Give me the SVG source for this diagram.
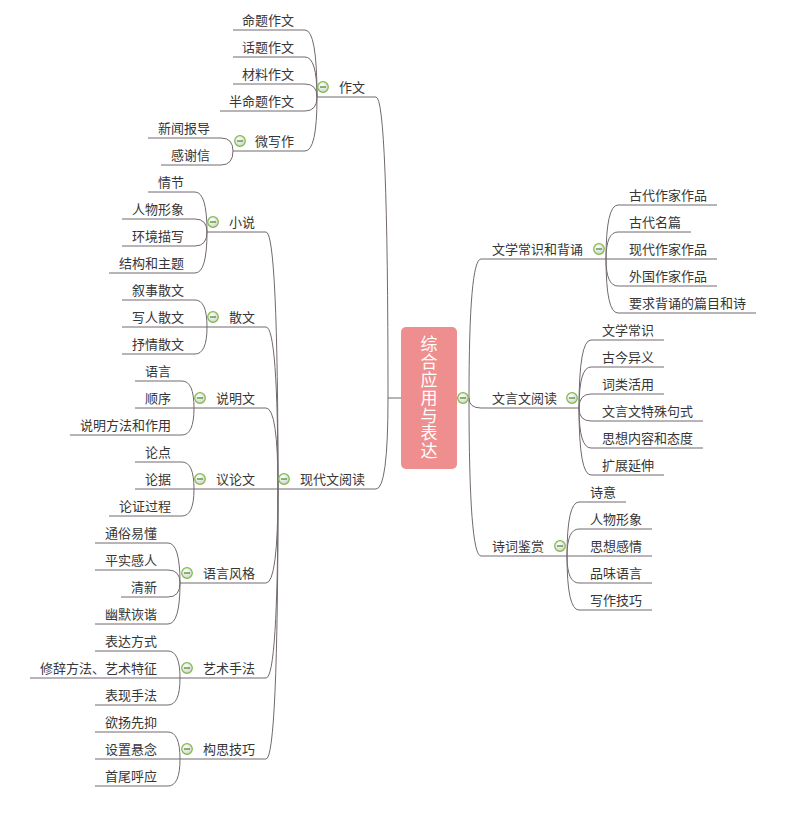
<svg xmlns="http://www.w3.org/2000/svg" xmlns:xlink="http://www.w3.org/1999/xlink" width="800" height="815" viewBox="0 0 800 815">
<style>
.t{font-family:"Noto Sans CJK SC","Noto Sans",sans-serif;font-size:13px;fill:#363636}
.l{text-anchor:end}
.c path{fill:none;stroke:#72696f;stroke-width:1}
.root{font-family:"Noto Sans CJK SC","Noto Sans",sans-serif;font-size:17px;fill:#ffffff;writing-mode:vertical-rl;letter-spacing:0.8px}
</style>
<defs>
<radialGradient id="gr" cx="0.4" cy="0.35" r="0.7">
<stop offset="0" stop-color="#ffffff"/>
<stop offset="1" stop-color="#d0d0d0"/>
</radialGradient>
<g id="col">
<circle r="5.3" fill="url(#gr)" stroke="#7dbb45" stroke-width="1.2"/>
<line x1="-3" y1="0" x2="3" y2="0" stroke="#4f8f2c" stroke-width="1.3"/>
</g>
</defs>
<rect width="800" height="815" fill="#ffffff"/>
<g class="c" id="connectors">
<path d="M401,398H388"/>
<path d="M388,398Q388,97 376,97H317"/>
<path d="M388,398Q388,489 376,489H278"/>
<path d="M317,97Q317,30 305,30H233"/>
<path d="M317,97Q317,57 305,57H233"/>
<path d="M317,97Q317,84 305,84H233"/>
<path d="M317,97Q317,111 305,111H220"/>
<path d="M317,97Q317,151 305,151H233"/>
<path d="M233,151Q233,138 221,138H148"/>
<path d="M233,151Q233,165 221,165H161"/>
<path d="M278,489Q278,232 266,232H207"/>
<path d="M278,489Q278,327 266,327H207"/>
<path d="M278,489Q278,408 266,408H194"/>
<path d="M278,489H194"/>
<path d="M278,489Q278,583 266,583H180"/>
<path d="M278,489Q278,678 266,678H180"/>
<path d="M278,489Q278,759 266,759H180"/>
<path d="M207,232Q207,192 195,192H148"/>
<path d="M207,232Q207,219 195,219H122"/>
<path d="M207,232Q207,246 195,246H122"/>
<path d="M207,232Q207,273 195,273H109"/>
<path d="M207,327Q207,300 195,300H122"/>
<path d="M207,327H122"/>
<path d="M207,327Q207,354 195,354H122"/>
<path d="M194,408Q194,381 182,381H135"/>
<path d="M194,408H135"/>
<path d="M194,408Q194,435 182,435H70"/>
<path d="M194,489Q194,462 182,462H135"/>
<path d="M194,489H135"/>
<path d="M194,489Q194,516 182,516H109"/>
<path d="M180,583Q180,543 168,543H95"/>
<path d="M180,583Q180,570 168,570H95"/>
<path d="M180,583Q180,597 168,597H121"/>
<path d="M180,583Q180,624 168,624H95"/>
<path d="M180,678Q180,651 168,651H95"/>
<path d="M180,678H30"/>
<path d="M180,678Q180,705 168,705H95"/>
<path d="M180,759Q180,732 168,732H95"/>
<path d="M180,759H95"/>
<path d="M180,759Q180,786 168,786H95"/>
<path d="M457,398H469"/>
<path d="M469,398Q469,259 481,259H606"/>
<path d="M469,398Q469,408 481,408H579"/>
<path d="M469,398Q469,556 481,556H567"/>
<path d="M606,259Q606,205 618,205H717"/>
<path d="M606,259Q606,232 618,232H691"/>
<path d="M606,259H717"/>
<path d="M606,259Q606,286 618,286H717"/>
<path d="M606,259Q606,313 618,313H756"/>
<path d="M579,408Q579,340 591,340H664"/>
<path d="M579,408Q579,367 591,367H664"/>
<path d="M579,408Q579,394 591,394H664"/>
<path d="M579,408Q579,421 591,421H703"/>
<path d="M579,408Q579,448 591,448H703"/>
<path d="M579,408Q579,475 591,475H664"/>
<path d="M567,556Q567,502 579,502H626"/>
<path d="M567,556Q567,529 579,529H652"/>
<path d="M567,556H652"/>
<path d="M567,556Q567,583 579,583H652"/>
<path d="M567,556Q567,610 579,610H652"/>
</g>
<g id="root">
<rect x="401" y="327" width="56" height="142" rx="5" fill="#ef8e8e"/>
<text class="root" x="429" y="335.5">综合应用与表达</text>
<use xlink:href="#col" x="463" y="398"/>
</g>
<g id="n-zuowen"><use xlink:href="#col" x="323" y="87"/><text class="t l" x="365" y="92">作文</text></g>
<g id="n-mingti"><text class="t l" x="294" y="25">命题作文</text></g>
<g id="n-huati"><text class="t l" x="294" y="52">话题作文</text></g>
<g id="n-cailiao"><text class="t l" x="294" y="79">材料作文</text></g>
<g id="n-banmingti"><text class="t l" x="294" y="106">半命题作文</text></g>
<g id="n-weixiezuo"><use xlink:href="#col" x="240" y="141"/><text class="t l" x="294" y="146">微写作</text></g>
<g id="n-xinwen"><text class="t l" x="210" y="133">新闻报导</text></g>
<g id="n-ganxie"><text class="t l" x="210" y="160">感谢信</text></g>
<g id="n-xiandai"><use xlink:href="#col" x="284" y="479"/><text class="t l" x="365" y="484">现代文阅读</text></g>
<g id="n-xiaoshuo"><use xlink:href="#col" x="213" y="222"/><text class="t l" x="255" y="227">小说</text></g>
<g id="n-qingjie"><text class="t l" x="184" y="187">情节</text></g>
<g id="n-renwu1"><text class="t l" x="184" y="214">人物形象</text></g>
<g id="n-huanjing"><text class="t l" x="184" y="241">环境描写</text></g>
<g id="n-jiegou"><text class="t l" x="184" y="268">结构和主题</text></g>
<g id="n-sanwen"><use xlink:href="#col" x="213" y="317"/><text class="t l" x="255" y="322">散文</text></g>
<g id="n-xushi"><text class="t l" x="184" y="295">叙事散文</text></g>
<g id="n-xieren"><text class="t l" x="184" y="322">写人散文</text></g>
<g id="n-shuqing"><text class="t l" x="184" y="349">抒情散文</text></g>
<g id="n-shuoming"><use xlink:href="#col" x="200" y="398"/><text class="t l" x="255" y="403">说明文</text></g>
<g id="n-yuyan"><text class="t l" x="171" y="376">语言</text></g>
<g id="n-shunxu"><text class="t l" x="171" y="403">顺序</text></g>
<g id="n-smff"><text class="t l" x="171" y="430">说明方法和作用</text></g>
<g id="n-yilun"><use xlink:href="#col" x="200" y="479"/><text class="t l" x="255" y="484">议论文</text></g>
<g id="n-lundian"><text class="t l" x="171" y="457">论点</text></g>
<g id="n-lunju"><text class="t l" x="171" y="484">论据</text></g>
<g id="n-lunzheng"><text class="t l" x="171" y="511">论证过程</text></g>
<g id="n-yuyanfengge"><use xlink:href="#col" x="187" y="573"/><text class="t l" x="255" y="578">语言风格</text></g>
<g id="n-tongsu"><text class="t l" x="157" y="538">通俗易懂</text></g>
<g id="n-pingshi"><text class="t l" x="157" y="565">平实感人</text></g>
<g id="n-qingxin"><text class="t l" x="157" y="592">清新</text></g>
<g id="n-youmo"><text class="t l" x="157" y="619">幽默诙谐</text></g>
<g id="n-yishu"><use xlink:href="#col" x="187" y="668"/><text class="t l" x="255" y="673">艺术手法</text></g>
<g id="n-biaoda"><text class="t l" x="157" y="646">表达方式</text></g>
<g id="n-xiuci"><text class="t l" x="157" y="673">修辞方法、艺术特征</text></g>
<g id="n-biaoxian"><text class="t l" x="157" y="700">表现手法</text></g>
<g id="n-gousi"><use xlink:href="#col" x="187" y="749"/><text class="t l" x="255" y="754">构思技巧</text></g>
<g id="n-yuyang"><text class="t l" x="157" y="727">欲扬先抑</text></g>
<g id="n-shezhi"><text class="t l" x="157" y="754">设置悬念</text></g>
<g id="n-shouwei"><text class="t l" x="157" y="781">首尾呼应</text></g>
<g id="n-wenxue"><use xlink:href="#col" x="599" y="249"/><text class="t" x="492" y="254">文学常识和背诵</text></g>
<g id="n-gudaizj"><text class="t" x="629" y="200">古代作家作品</text></g>
<g id="n-gudaimp"><text class="t" x="629" y="227">古代名篇</text></g>
<g id="n-xiandaizj"><text class="t" x="629" y="254">现代作家作品</text></g>
<g id="n-waiguo"><text class="t" x="629" y="281">外国作家作品</text></g>
<g id="n-beisong"><text class="t" x="629" y="308">要求背诵的篇目和诗</text></g>
<g id="n-wenyan"><use xlink:href="#col" x="572" y="398"/><text class="t" x="492" y="403">文言文阅读</text></g>
<g id="n-wxcs"><text class="t" x="602" y="335">文学常识</text></g>
<g id="n-gujin"><text class="t" x="602" y="362">古今异义</text></g>
<g id="n-cilei"><text class="t" x="602" y="389">词类活用</text></g>
<g id="n-teshu"><text class="t" x="602" y="416">文言文特殊句式</text></g>
<g id="n-sixiang"><text class="t" x="602" y="443">思想内容和态度</text></g>
<g id="n-kuozhan"><text class="t" x="602" y="470">扩展延伸</text></g>
<g id="n-shici"><use xlink:href="#col" x="560" y="546"/><text class="t" x="492" y="551">诗词鉴赏</text></g>
<g id="n-shiyi"><text class="t" x="590" y="497">诗意</text></g>
<g id="n-renwu2"><text class="t" x="590" y="524">人物形象</text></g>
<g id="n-sxgq"><text class="t" x="590" y="551">思想感情</text></g>
<g id="n-pinwei"><text class="t" x="590" y="578">品味语言</text></g>
<g id="n-xiezuo"><text class="t" x="590" y="605">写作技巧</text></g>
</svg>
